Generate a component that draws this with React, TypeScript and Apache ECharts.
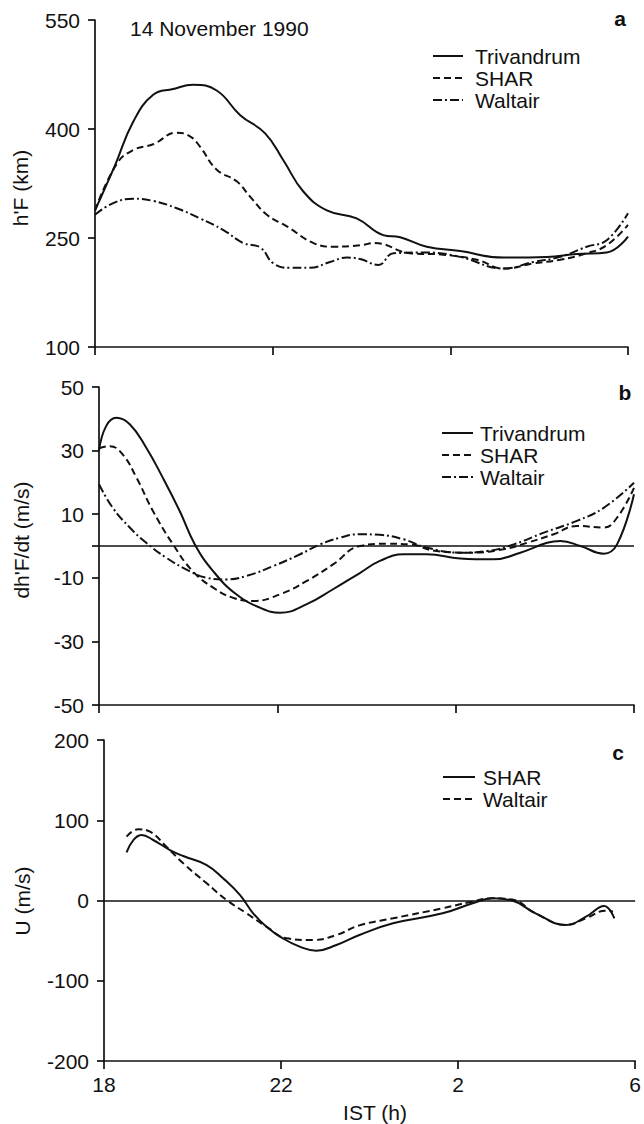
import React, { useEffect, useRef } from 'react';
import * as echarts from 'echarts';

const FONT = '"Liberation Sans", Arial, Helvetica, sans-serif';
const INK = '#111';
const FS = 21;

// x values are hours after 18 IST (0..12)
const xTickLabels = ['18', '22', '2', '6'];

// Panel a: h'F (km)
const trivA_t = [0, 0.45, 0.86, 1.31, 1.76, 2.21, 2.74, 3.27, 3.83, 4.24, 4.69, 5.22, 5.89, 6.49, 6.87, 7.47, 8.22, 9.2, 10.17, 10.85, 11.52, 12];
const trivA_v = [288, 350, 410, 447, 455, 461, 453, 419, 394, 357, 314, 288, 277, 254, 251, 238, 232, 223, 224, 228, 230, 252];
const sharA_t = [0, 0.49, 0.86, 1.31, 1.84, 2.14, 2.36, 2.74, 3.19, 3.49, 3.87, 4.32, 4.92, 5.37, 5.97, 6.3, 7.09, 7.84, 8.6, 9.2, 9.87, 10.47, 11.07, 11.52, 12];
const sharA_v = [288, 352, 371, 379, 395, 390, 376, 344, 328, 307, 282, 266, 243, 238, 240, 243, 229, 227, 220, 208, 215, 220, 229, 240, 268];
const waltA_t = [0, 0.41, 0.86, 1.31, 1.84, 2.36, 2.89, 3.34, 3.72, 4.02, 4.39, 4.84, 5.29, 5.67, 5.97, 6.38, 6.72, 7.47, 8.22, 9.2, 9.87, 10.47, 11.07, 11.52, 12];
const waltA_v = [282, 298, 304, 301, 291, 277, 261, 243, 237, 215, 209, 209, 217, 223, 221, 213, 229, 230, 224, 208, 217, 224, 238, 247, 284];

// Panel b: dh'F/dt (m/s)
const trivB_t = [0, 0.16, 0.39, 0.69, 1.06, 1.43, 1.81, 2.15, 2.56, 3.08, 3.61, 4.06, 4.66, 5.25, 5.85, 6.3, 6.83, 7.35, 8.1, 8.85, 9.45, 10.05, 10.35, 10.8, 11.32, 11.62, 12];
const trivB_v = [30, 37.7, 40.3, 38.3, 30.9, 21.5, 11, 0.5, -7.9, -15.2, -19.4, -21, -18.3, -13.6, -8.5, -4.7, -2.6, -2.6, -3.9, -4.2, -2.1, 1, 1.6, 0, -2.4, 0.5, 16.3];
const sharB_t = [0, 0.24, 0.53, 0.84, 1.21, 1.66, 2.1, 2.56, 3.01, 3.46, 4.06, 4.66, 5.25, 5.85, 6.45, 6.97, 7.57, 8.33, 9.07, 9.6, 10.2, 10.72, 11.32, 11.62, 12];
const sharB_v = [30.7, 31.4, 28.8, 21.5, 11, 0.5, -7.9, -13.1, -16.3, -17.3, -15.2, -11, -5.8, 0, 0.7, 0.5, -1.6, -2.1, -1, 1, 3.7, 6.3, 5.8, 8.9, 18.3];
const waltB_t = [0, 0.31, 0.69, 1.06, 1.51, 2.03, 2.41, 2.86, 3.31, 3.91, 4.51, 4.96, 5.4, 5.85, 6.3, 6.83, 7.35, 8.1, 8.7, 9.3, 9.98, 10.72, 11.32, 12];
const waltB_v = [19.4, 12, 5.8, 1, -3.7, -7.9, -10, -10.5, -9.4, -6.3, -2.6, 0.5, 2.6, 3.7, 3.5, 2.1, -0.5, -2.1, -1.6, 0.5, 4.2, 7.9, 12, 19.9];

// Panel c: U (m/s)
const sharC_t = [0.51, 0.66, 0.85, 1.11, 1.49, 1.79, 2.32, 2.69, 3.07, 3.37, 3.67, 4.04, 4.42, 4.8, 5.25, 5.77, 6.53, 7.65, 8.33, 8.78, 9.22, 9.75, 10.44, 10.89, 11.3, 11.53];
const sharC_v = [60, 75, 81.6, 75.4, 62.9, 55.4, 44.2, 27.7, 6.9, -16, -32.6, -47.1, -57.5, -62.5, -55.4, -43, -28.4, -16, -3.5, 2.7, 0, -16, -30.5, -20.2, -6.9, -22.2];
const waltC_t = [0.51, 0.77, 1.04, 1.41, 1.79, 2.32, 2.77, 3.22, 3.67, 4.12, 4.72, 5.25, 5.77, 6.53, 7.65, 8.25, 8.78, 9.22, 9.75, 10.44, 10.89, 11.34, 11.5];
const waltC_v = [79.5, 88.7, 85.7, 67, 46.3, 21.4, 0.6, -16, -32.6, -47.1, -49.2, -43, -31, -22.2, -9.7, -2.2, 2.7, 1.2, -16, -30.5, -22, -12.7, -14];

const yTicksA = [100, 250, 400, 550];
const yLabelsB = [-50, -30, -10, 10, 30, 50];
const yTicksB = [-50, -30, -10, 0, 10, 30, 50];

const zip = (t: number[], v: number[]) => t.map((x, i) => [x, v[i]]);

const SOLID = 'solid';
const DASHED = [7, 4];
const DASHDOT = [9, 3, 2, 3];

const grids = [
  { left: 95, top: 20, width: 533, height: 327 },
  { left: 99, top: 387, width: 535, height: 318 },
  { left: 104, top: 740, width: 532, height: 321 },
];

function xAxis(i: number, showLabels: boolean) {
  return {
    type: 'value',
    gridIndex: i,
    min: 0,
    max: 12,
    interval: 4,
    axisLine: { onZero: false, lineStyle: { color: INK, width: 1.7 } },
    axisTick: { show: true, inside: false, length: 8, lineStyle: { color: INK, width: 1.7 } },
    axisLabel: {
      show: showLabels,
      margin: 13,
      color: INK,
      fontSize: FS,
      fontFamily: FONT,
      formatter: (v: number) => xTickLabels[Math.round(v / 4)] ?? '',
    },
    splitLine: { show: false },
  };
}

function yAxis(i: number, min: number, max: number, extra: any) {
  return {
    type: 'value',
    gridIndex: i,
    min,
    max,
    axisLine: { show: true, onZero: false, lineStyle: { color: INK, width: 1.7 } },
    axisTick: { show: true, inside: false, length: 7, lineStyle: { color: INK, width: 1.7 }, ...(extra.tick || {}) },
    axisLabel: { color: INK, fontSize: FS, fontFamily: FONT, margin: 15, ...(extra.label || {}) },
    splitLine: { show: false },
    ...(extra.axis || {}),
  };
}

function line(name: string, i: number, data: number[][], type: any, extra: any = {}) {
  return {
    name,
    type: 'line',
    xAxisIndex: i,
    yAxisIndex: i,
    data,
    showSymbol: false,
    symbol: 'none',
    smooth: 0.45,
    lineStyle: { color: INK, width: 2, type },
    z: 3,
    ...extra,
  };
}

const zeroLine = {
  silent: true,
  symbol: ['none', 'none'],
  label: { show: false },
  lineStyle: { color: INK, type: 'solid', width: 1.6 },
  data: [{ yAxis: 0 }],
};

function txt(text: string, x: number, y: number, opts: any = {}) {
  const align = opts.align || 'left';
  return {
    type: 'text',
    x,
    y,
    rotation: opts.rotation || 0,
    style: {
      text,
      fill: INK,
      fontSize: opts.size || FS,
      fontFamily: FONT,
      fontWeight: opts.bold ? 'bold' : 'normal',
      align,
      textAlign: align,
      verticalAlign: 'middle',
      textVerticalAlign: 'middle',
    },
  };
}

function legendLine(x1: number, x2: number, y: number, dash: any) {
  return {
    type: 'line',
    shape: { x1, y1: y, x2, y2: y },
    style: { stroke: INK, lineWidth: 2, lineDash: dash === 'solid' ? null : dash },
  };
}

function legend(x1: number, x2: number, xText: number, items: [string, any, number][]) {
  const els: any[] = [];
  items.forEach(([label, dash, y]) => {
    els.push(legendLine(x1, x2, y, dash));
    els.push(txt(label, xText, y));
  });
  return els;
}

export default function App() {
  const ref = useRef<HTMLDivElement>(null);
  useEffect(() => {
    document.body.style.margin = '0';
    const chart = echarts.init(ref.current as HTMLDivElement, null, { renderer: 'svg' });
    const option: any = {
      animation: false,
      backgroundColor: '#fff',
      grid: grids,
      xAxis: [xAxis(0, false), xAxis(1, false), xAxis(2, true)],
      yAxis: [
        yAxis(0, 100, 550, { label: { customValues: yTicksA }, tick: { customValues: yTicksA } }),
        yAxis(1, -50, 50, { label: { customValues: yLabelsB }, tick: { customValues: yTicksB } }),
        yAxis(2, -200, 200, { axis: { interval: 100 } }),
      ],
      series: [
        line('Trivandrum', 0, zip(trivA_t, trivA_v), SOLID),
        line('SHAR', 0, zip(sharA_t, sharA_v), DASHED),
        line('Waltair', 0, zip(waltA_t, waltA_v), DASHDOT),
        line('Trivandrum', 1, zip(trivB_t, trivB_v), SOLID, { markLine: zeroLine }),
        line('SHAR', 1, zip(sharB_t, sharB_v), DASHED),
        line('Waltair', 1, zip(waltB_t, waltB_v), DASHDOT),
        line('SHAR', 2, zip(sharC_t, sharC_v), SOLID, { markLine: zeroLine }),
        line('Waltair', 2, zip(waltC_t, waltC_v), DASHED),
      ],
      graphic: [
        txt('14 November 1990', 130, 28),
        txt('a', 620, 18, { bold: true, align: 'center' }),
        txt('b', 625, 392, { bold: true, align: 'center' }),
        txt('c', 618, 752, { bold: true, align: 'center' }),
        txt("h'F (km)", 20, 188, { rotation: Math.PI / 2, align: 'center' }),
        txt("dh'F/dt (m/s)", 21, 540, { rotation: Math.PI / 2, align: 'center' }),
        txt('U (m/s)', 22, 901, { rotation: Math.PI / 2, align: 'center' }),
        txt('IST (h)', 375, 1112, { align: 'center' }),
        ...legend(433, 463, 475, [
          ['Trivandrum', SOLID, 56],
          ['SHAR', DASHED, 78],
          ['Waltair', DASHDOT, 100],
        ]),
        ...legend(442, 473, 480, [
          ['Trivandrum', SOLID, 433],
          ['SHAR', DASHED, 455],
          ['Waltair', DASHDOT, 477],
        ]),
        ...legend(443, 475, 483, [
          ['SHAR', SOLID, 777],
          ['Waltair', DASHED, 799],
        ]),
      ],
    };
    chart.setOption(option);
    return () => chart.dispose();
  }, []);
  return <div ref={ref} style={{ width: 644, height: 1124 }} />;
}
